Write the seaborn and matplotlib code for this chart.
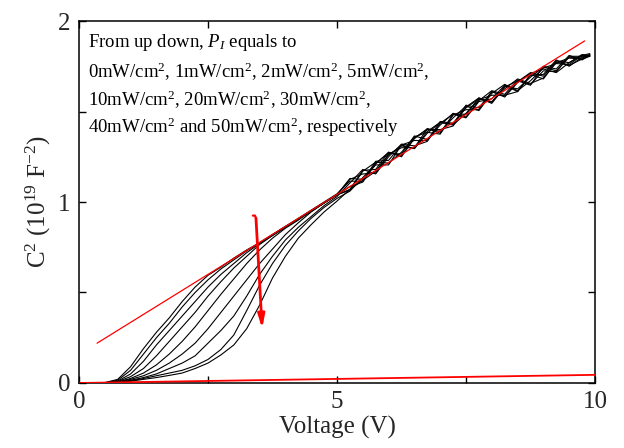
import matplotlib
matplotlib.use("Agg")
import matplotlib.pyplot as plt
import pandas as pd
import seaborn as sns
from matplotlib.ticker import MultipleLocator

# Bias voltage grid (V)
voltage = [0.0, 0.25, 0.5, 0.75, 1.0, 1.25, 1.5, 1.75, 2.0, 2.25,
           2.5, 2.75, 3.0, 3.25, 3.5, 3.75, 4.0, 4.25, 4.5, 4.75,
           5.0, 5.25, 5.5, 5.75, 6.0, 6.25, 6.5, 6.75, 7.0, 7.25,
           7.5, 7.75, 8.0, 8.25, 8.5, 8.75, 9.0, 9.25, 9.5, 9.75, 9.9]

# C^-2 (1e19 F^-2) for each illumination intensity P_I (mW/cm^2)
c_0mw = [0, 0, 0.002, 0.02, 0.09, 0.19, 0.28, 0.36, 0.45, 0.53,
         0.595, 0.64, 0.69, 0.735, 0.775, 0.82, 0.865, 0.91, 0.955, 1.0,
         1.045, 1.115, 1.115, 1.225, 1.23, 1.315, 1.295, 1.39, 1.44, 1.43,
         1.535, 1.52, 1.61, 1.585, 1.665, 1.715, 1.695, 1.78, 1.77, 1.81, 1.81]
c_1mw = [0, 0, 0.001, 0.015, 0.07, 0.16, 0.25, 0.33, 0.42, 0.50,
         0.57, 0.63, 0.68, 0.73, 0.775, 0.82, 0.865, 0.905, 0.95, 0.995,
         1.04, 1.07, 1.175, 1.18, 1.275, 1.255, 1.35, 1.405, 1.38, 1.485,
         1.485, 1.575, 1.55, 1.64, 1.625, 1.69, 1.745, 1.725, 1.80, 1.795, 1.815]
c_2mw = [0, 0, 0.001, 0.01, 0.05, 0.12, 0.21, 0.29, 0.37, 0.45,
         0.53, 0.60, 0.66, 0.72, 0.77, 0.815, 0.86, 0.905, 0.95, 0.995,
         1.04, 1.125, 1.155, 1.16, 1.265, 1.30, 1.30, 1.405, 1.39, 1.465,
         1.53, 1.505, 1.60, 1.65, 1.615, 1.67, 1.74, 1.765, 1.76, 1.81, 1.82]
c_5mw = [0, 0, 0.001, 0.008, 0.035, 0.08, 0.15, 0.23, 0.31, 0.39,
         0.48, 0.56, 0.635, 0.70, 0.765, 0.815, 0.86, 0.905, 0.95, 0.995,
         1.04, 1.085, 1.11, 1.215, 1.27, 1.265, 1.365, 1.345, 1.425, 1.49,
         1.47, 1.56, 1.615, 1.595, 1.675, 1.65, 1.725, 1.72, 1.805, 1.805, 1.805]
c_10mw = [0, 0, 0, 0.006, 0.025, 0.055, 0.10, 0.16, 0.23, 0.31,
          0.40, 0.49, 0.575, 0.66, 0.735, 0.80, 0.855, 0.90, 0.95, 0.995,
          1.04, 1.13, 1.125, 1.205, 1.205, 1.315, 1.34, 1.34, 1.445, 1.435,
          1.52, 1.57, 1.555, 1.625, 1.68, 1.655, 1.685, 1.77, 1.795, 1.79, 1.81]
c_20mw = [0, 0, 0, 0.005, 0.02, 0.04, 0.07, 0.11, 0.16, 0.22,
          0.30, 0.39, 0.48, 0.57, 0.66, 0.74, 0.82, 0.885, 0.945, 0.995,
          1.04, 1.065, 1.17, 1.22, 1.215, 1.275, 1.36, 1.385, 1.375, 1.48,
          1.51, 1.51, 1.61, 1.58, 1.66, 1.71, 1.735, 1.715, 1.77, 1.815, 1.805]
c_30mw = [0, 0, 0, 0.004, 0.015, 0.03, 0.05, 0.08, 0.11, 0.15,
          0.22, 0.29, 0.37, 0.48, 0.60, 0.70, 0.79, 0.86, 0.92, 0.98,
          1.03, 1.105, 1.18, 1.155, 1.25, 1.32, 1.31, 1.335, 1.435, 1.485,
          1.465, 1.555, 1.57, 1.645, 1.61, 1.70, 1.705, 1.785, 1.75, 1.80, 1.815]
c_40mw = [0, 0, 0, 0.003, 0.012, 0.025, 0.04, 0.055, 0.07, 0.095,
          0.13, 0.185, 0.265, 0.40, 0.54, 0.66, 0.76, 0.84, 0.91, 0.97,
          1.02, 1.06, 1.135, 1.21, 1.275, 1.25, 1.355, 1.40, 1.40, 1.42,
          1.525, 1.575, 1.545, 1.635, 1.67, 1.645, 1.75, 1.735, 1.81, 1.785, 1.81]
c_50mw = [0, 0, 0, 0.002, 0.01, 0.02, 0.03, 0.042, 0.055, 0.08,
          0.11, 0.155, 0.21, 0.30, 0.43, 0.58, 0.70, 0.80, 0.875, 0.945,
          1.005, 1.07, 1.12, 1.17, 1.26, 1.31, 1.295, 1.38, 1.44, 1.425,
          1.49, 1.565, 1.59, 1.59, 1.61, 1.705, 1.68, 1.775, 1.755, 1.79, 1.805]

intensities = ["0", "1", "2", "5", "10", "20", "30", "40", "50"]
curves = [c_0mw, c_1mw, c_2mw, c_5mw, c_10mw, c_20mw, c_30mw, c_40mw, c_50mw]

# Linear fit through the depletion region and the dark baseline
fit_v = [0.35, 9.8]
fit_c = [0.22, 1.89]
base_v = [0.0, 10.0]
base_c = [0.0, 0.045]

# Arrow: direction of increasing intensity (with a small hook at its tail)
hook_v = [3.37, 3.41, 3.43]
hook_c = [0.925, 0.925, 0.91]
arrow_start = (3.43, 0.91)
arrow_end = (3.55, 0.30)

x_ticks = [0, 5, 10]
y_ticks = [0, 1, 2]

sns.set_style("ticks")
plt.rcParams["font.family"] = ["Liberation Serif", "DejaVu Serif"]
plt.rcParams["mathtext.fontset"] = "custom"
plt.rcParams["mathtext.rm"] = "Liberation Serif"
plt.rcParams["mathtext.it"] = "Liberation Serif:italic"
plt.rcParams["mathtext.bf"] = "Liberation Serif:bold"

rows = []
for p, vals in zip(intensities, curves):
    for v, c in zip(voltage, vals):
        rows.append({"Voltage": v, "C": c, "P": p})
df = pd.DataFrame(rows)

fig = plt.figure(figsize=(6.24, 4.48), dpi=100)
ax = fig.add_axes([0.1266, 0.1451, 0.8269, 0.8080])

sns.lineplot(data=df, x="Voltage", y="C", hue="P", hue_order=intensities,
             palette=["black"] * len(intensities), estimator=None, sort=False,
             legend=False, linewidth=0.8, ax=ax)

ax.plot(base_v, base_c, color="#ff0000", lw=1.3, zorder=3)
ax.plot(fit_v, fit_c, color="#ff0000", lw=0.9, zorder=3)

ax.plot(hook_v, hook_c, color="#ff0000", lw=1.6, zorder=4,
        solid_capstyle="round")
ax.annotate("", xy=arrow_end, xytext=arrow_start,
            arrowprops=dict(arrowstyle="-|>,head_length=0.8,head_width=0.2",
                            color="#ff0000", lw=2.0, shrinkA=0, shrinkB=0),
            zorder=4)

ax.set_xlim(0, 10)
ax.set_ylim(0, 2)
ax.set_xticks(x_ticks)
ax.set_yticks(y_ticks)
ax.xaxis.set_minor_locator(MultipleLocator(2.5))
ax.yaxis.set_minor_locator(MultipleLocator(0.5))
ax.tick_params(which="both", direction="in", top=True, right=True,
               length=5, width=1, color="black", labelsize=18, pad=6)
for s in ax.spines.values():
    s.set_color("black")
    s.set_linewidth(1.1)

ax.set_xlabel("Voltage (V)", fontsize=18, labelpad=2)
ax.set_ylabel("C$^{2}$ (10$^{19}$ F$^{-2}$)", fontsize=18, labelpad=4)

lines = [
    (0.928, "From up down, $P_I$ equals to"),
    (0.843, "0mW/cm$^2$, 1mW/cm$^2$, 2mW/cm$^2$, 5mW/cm$^2$,"),
    (0.765, "10mW/cm$^2$, 20mW/cm$^2$, 30mW/cm$^2$,"),
    (0.691, "40mW/cm$^2$ and 50mW/cm$^2$, respectively"),
]
for yy, txt in lines:
    ax.text(0.018, yy, txt, transform=ax.transAxes, fontsize=13.5,
            va="baseline", ha="left", color="black")

fig.savefig("out.png", dpi=100)
